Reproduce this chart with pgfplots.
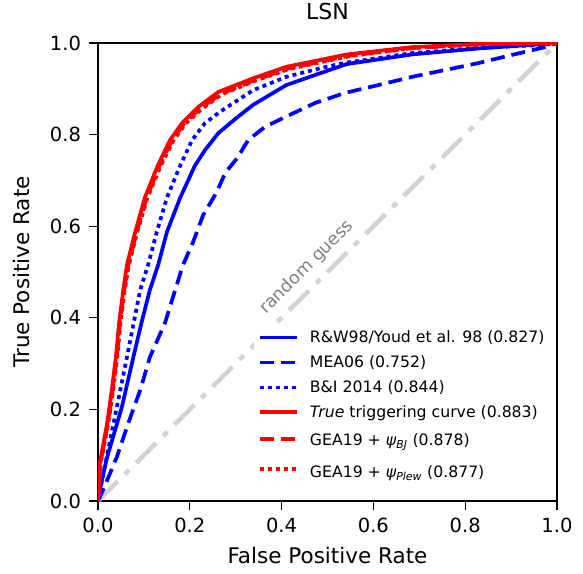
\documentclass[border=0pt]{standalone}
\usepackage{fontspec}
\setmainfont{DejaVu Sans}
\usepackage{pgfplots}
\pgfplotsset{compat=1.18}
\definecolor{rgline}{RGB}{211,211,211}
\definecolor{rgtext}{RGB}{128,128,128}
\definecolor{mplblue}{RGB}{0,0,255}
\definecolor{mplred}{RGB}{255,0,0}
\begin{document}
\begin{tikzpicture}
\begin{axis}[
  at={(0,0)}, anchor=south west,
  scale only axis, width=459pt, height=458pt,
  xmin=0, xmax=1, ymin=0, ymax=1,
  xtick={0,0.2,0.4,0.6,0.8,1}, ytick={0,0.2,0.4,0.6,0.8,1},
  xticklabels={0.0,0.2,0.4,0.6,0.8,1.0},
  yticklabels={0.0,0.2,0.4,0.6,0.8,1.0},
  tick align=outside, tick pos=left,
  major tick length=8.5pt,
  every tick/.style={black, line width=1.2pt},
  axis line style={line width=1.2pt},
  /pgf/number format/assume math mode=true,
  tick label style={font=\fontsize{19.5}{22}\selectfont},
  xticklabel style={yshift=-5pt},
  yticklabel style={xshift=-5pt},
  xlabel={False Positive Rate}, ylabel={True Positive Rate},
  label style={font=\fontsize{21.5}{25}\selectfont},
  xlabel style={at={(axis description cs:0.5,-0.118)}, anchor=center},
  ylabel style={at={(axis description cs:-0.166,0.5)}, anchor=center},
  title={LSN},
  title style={font=\fontsize{22}{26}\selectfont, at={(axis description cs:0.5,1.055)}, anchor=center},
  legend cell align=left,
  legend image code/.code={\draw[#1] (0pt,0pt) -- (37pt,0pt);},
  legend style={at={(axis cs:0.34,0.385)}, anchor=north west, draw=none, fill=white,
    font=\fontsize{15.7}{19}\selectfont, row sep=7.5pt, inner sep=4pt,
    nodes={inner sep=2pt},
    /tikz/every odd column/.append style={column sep=9pt}},
]
\addplot[rgline, line width=4.5pt, dash pattern=on 28pt off 10pt on 6pt off 10pt, forget plot] coordinates {(0,0) (1,1)};
\node[rgtext, rotate=45, font=\fontsize{17.5}{20}\selectfont] at (axis cs:0.455,0.51) {random guess};

\addplot[mplblue, line width=3.7pt] coordinates {
(0,0) (0.005,0.03) (0.02,0.096) (0.052,0.205) (0.077,0.314) (0.095,0.39) (0.113,0.461)
(0.131,0.515) (0.15,0.587) (0.179,0.662) (0.211,0.732) (0.233,0.766) (0.262,0.803)
(0.30,0.835) (0.338,0.865) (0.41,0.908) (0.484,0.934) (0.542,0.954) (0.684,0.975)
(0.828,0.988) (1,1)};
\addlegendentry{R\&W98/Youd et al. 98 (0.827)}

\addplot[mplblue, line width=3.7pt, dash pattern=on 14pt off 7pt] coordinates {
(0,0) (0.011,0.024) (0.041,0.096) (0.066,0.17) (0.092,0.242) (0.113,0.314) (0.146,0.389)
(0.168,0.46) (0.185,0.515) (0.207,0.565) (0.229,0.624) (0.259,0.675) (0.277,0.716)
(0.305,0.751) (0.327,0.788) (0.364,0.817) (0.407,0.838) (0.473,0.869) (0.538,0.891)
(0.61,0.908) (0.684,0.926) (0.756,0.941) (0.828,0.956) (0.902,0.974) (0.974,0.991) (1,1)};
\addlegendentry{MEA06 (0.752)}

\addplot[mplblue, line width=3.7pt, dash pattern=on 4pt off 4pt] coordinates {
(0,0) (0.019,0.096) (0.041,0.205) (0.063,0.314) (0.078,0.39) (0.092,0.461) (0.109,0.515)
(0.128,0.587) (0.15,0.662) (0.179,0.732) (0.205,0.788) (0.233,0.825) (0.266,0.85)
(0.338,0.897) (0.41,0.926) (0.484,0.945) (0.54,0.957) (0.684,0.978) (0.828,0.989)
(0.974,0.996) (1,1)};
\addlegendentry{B\&I 2014 (0.844)}

\addplot[mplred, line width=3.7pt] coordinates {
(0,0) (0.004,0.083) (0.02,0.17) (0.03,0.242) (0.039,0.314) (0.046,0.389) (0.055,0.46)
(0.063,0.515) (0.081,0.587) (0.102,0.662) (0.130,0.732) (0.157,0.788) (0.183,0.825)
(0.218,0.860) (0.262,0.893) (0.338,0.923) (0.41,0.948) (0.484,0.963) (0.542,0.975)
(0.684,0.991) (0.828,0.998) (1,1)};
\addlegendentry{{\itshape True} triggering curve (0.883)}

\addplot[mplred, line width=3.7pt, dash pattern=on 14pt off 7pt] coordinates {
(0,0) (0.005,0.08) (0.021,0.168) (0.032,0.242) (0.041,0.314) (0.048,0.389) (0.057,0.46)
(0.066,0.515) (0.084,0.587) (0.106,0.662) (0.134,0.732) (0.162,0.788) (0.188,0.825)
(0.224,0.858) (0.268,0.889) (0.342,0.919) (0.414,0.944) (0.488,0.960) (0.546,0.972)
(0.686,0.989) (0.83,0.997) (1,1)};
\addlegendentry{GEA19 + {\itshape ψ}\textsubscript{\itshape BJ}\rule[-8pt]{0pt}{23pt} (0.878)}

\addplot[mplred, line width=3.7pt, dash pattern=on 4pt off 4pt] coordinates {
(0,0) (0.005,0.078) (0.022,0.166) (0.033,0.24) (0.042,0.312) (0.049,0.387) (0.058,0.458)
(0.067,0.513) (0.085,0.585) (0.107,0.66) (0.136,0.73) (0.164,0.786) (0.19,0.823)
(0.226,0.856) (0.27,0.888) (0.344,0.918) (0.416,0.943) (0.49,0.959) (0.548,0.971)
(0.688,0.989) (0.83,0.997) (1,1)};
\addlegendentry{GEA19 + {\itshape ψ}\textsubscript{\itshape Plew}\rule[-12pt]{0pt}{31pt} (0.877)}
\end{axis}
\pgfresetboundingbox
\useasboundingbox (-98pt,-72pt) rectangle (485pt,501pt);
\end{tikzpicture}
\end{document}
